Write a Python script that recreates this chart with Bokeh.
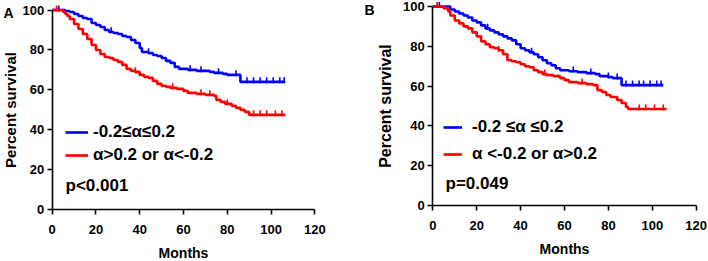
import numpy as np
from bokeh.plotting import figure
from bokeh.models import Range1d, FixedTicker, Legend, LegendItem, Label
from bokeh.layouts import row
from bokeh.embed import file_html
from bokeh.resources import INLINE

# ---------------- data ----------------
a_blue_t = [0, 5, 6, 8, 10, 12, 14, 16, 18, 20, 22, 24, 26, 28, 30, 32, 34, 36, 38, 40, 41,
            44, 46, 48, 50, 52, 54, 56, 58, 62, 66, 72, 74, 78, 80, 86, 106.5]
a_blue_s = [100, 100, 99.5, 99, 98, 97, 96, 95.5, 93.5, 92.5, 91.5, 90, 89, 88.5, 88, 87, 86.5, 85, 83.5, 81, 79,
            78.5, 77.5, 77, 76, 74.5, 73.5, 71.5, 70.5, 70, 69.5, 69, 68.5, 68, 67.5, 64, 64]
a_blue_cens = [3, 27, 44, 63, 68, 76, 84, 89, 92, 95, 98, 101, 104, 106]

a_red_t = [0, 4, 5, 6, 7, 8, 10, 12, 14, 16, 18, 20, 22, 24, 26, 28, 30, 32, 34, 36, 38, 40, 42, 44,
           46, 48, 50, 52, 54, 57, 60, 62, 66, 70, 74, 75, 77, 79, 82, 84, 86, 88, 90, 106.5]
a_red_s = [100, 100, 99, 98, 97, 95.5, 93, 90.5, 88, 85.5, 82.5, 80, 78, 76.5, 76, 75, 74, 72.5, 70.5, 69.5, 69,
           67.5, 66.5, 66, 64.5, 63, 62, 61.5, 61, 60.5, 59.5, 58.5, 58, 57.5, 57, 55, 54, 53, 52, 51, 50, 49,
           47.5, 47.5]
a_red_cens = [2, 38, 55, 68, 72, 80, 92, 95, 98, 102, 105]

b_blue_t = [0, 6, 8, 10, 12, 14, 16, 18, 20, 22, 24, 26, 28, 30, 32, 34, 36, 38, 40, 42, 44, 46, 48,
            50, 52, 54, 56, 58, 62, 66, 70, 74, 76, 80, 82, 86, 105]
b_blue_s = [100, 100, 98.5, 97.5, 96.5, 95.5, 94.5, 93, 92, 90.5, 89, 88, 87, 86, 85, 84, 83, 81, 79, 78, 77, 76,
            74.5, 73, 71.5, 70.5, 69, 68, 67.5, 67, 66.5, 66, 65, 64.5, 64, 60.5, 60.5]
b_blue_cens = [3, 25, 45, 64, 72, 80, 84, 88, 91, 94, 96, 99, 102, 104]

b_red_t = [0, 4, 5, 7, 8, 10, 12, 14, 16, 18, 20, 22, 24, 26, 28, 30, 32, 34, 36, 38, 40, 42, 44, 46,
           48, 50, 52, 55, 58, 60, 62, 66, 70, 73, 75, 77, 79, 81, 84, 86, 88, 89, 106.5]
b_red_s = [100, 100, 99, 97.5, 95.5, 93, 91.5, 90, 89, 87, 85, 82.5, 81, 79.5, 79, 78, 76, 73, 72.5, 72, 71,
           70, 69.5, 68, 67, 66, 65.5, 65, 64, 63, 62, 61.5, 61, 60.5, 58, 57, 55.5, 54.5, 53, 51.5, 49.5,
           48.5, 48.5]
b_red_cens = [2, 30, 51, 68, 94, 97, 101, 105]

x_ticks = [0, 20, 40, 60, 80, 100, 120]
y_ticks = [0, 20, 40, 60, 80, 100]

a_labels = ["-0.2\u2264\u03b1\u22640.2", "\u03b1>0.2 or \u03b1<-0.2"]
b_labels = ["-0.2 \u2264\u03b1 \u22640.2", "\u03b1 <-0.2 or \u03b1>0.2"]
a_pval = "p<0.001"
b_pval = "p=0.049"

BLUE = "#0000FF"
RED = "#FF0000"
FONT = "Liberation Sans"
W, H = 354, 261


def step_value(t, s, x):
    idx = np.searchsorted(np.asarray(t), np.asarray(x), side="right") - 1
    return np.asarray(s)[idx]


def make_panel(letter, curves, labels, pval, x0px, x120px, y0px, y100px,
               leg_left, leg_top, leg_spacing, glyph_w, standoff, pval_px, letter_px,
               tick_standoff_y, label_standoff_y, ylabel_size):
    # pixel calibration -> data ranges (frame covers the whole canvas, axes fixed at 0)
    sx = (x120px - x0px) / 120.0
    sy = (y0px - y100px) / 100.0
    xr = Range1d(-x0px / sx, (W - x0px) / sx)
    yr = Range1d(-(H - y0px) / sy, y0px / sy)

    p = figure(width=W, height=H, x_range=xr, y_range=yr,
               min_border_left=0, min_border_right=0, min_border_top=0, min_border_bottom=0,
               output_backend="svg", toolbar_location=None, tools="")
    p.grid.visible = False
    p.outline_line_color = None
    p.background_fill_color = "white"
    p.border_fill_color = "white"

    for ax in (p.xaxis[0], p.yaxis[0]):
        ax.fixed_location = 0
        ax.axis_line_width = 1.6
        ax.axis_line_color = "black"
        ax.major_tick_line_width = 1.6
        ax.major_tick_line_color = "black"
        ax.major_tick_out = 5
        ax.major_tick_in = 0
        ax.minor_tick_line_color = None
        ax.major_label_text_font = FONT
        ax.major_label_text_font_style = "bold"
        ax.major_label_text_font_size = "13px"
        ax.major_label_text_color = "black"
        ax.axis_label_text_font = FONT
        ax.axis_label_text_font_style = "bold"
        ax.axis_label_text_color = "black"
    p.xaxis[0].ticker = FixedTicker(ticks=x_ticks)
    p.yaxis[0].ticker = FixedTicker(ticks=y_ticks)
    p.xaxis[0].bounds = (0, 120)
    p.yaxis[0].bounds = (0, 100)
    p.xaxis[0].axis_label = "Months"
    p.yaxis[0].axis_label = "Percent survival"
    p.xaxis[0].axis_label_text_font_size = "14px"
    p.yaxis[0].axis_label_text_font_size = ylabel_size
    p.xaxis[0].major_label_standoff = 10
    p.yaxis[0].major_label_standoff = tick_standoff_y
    p.xaxis[0].axis_label_standoff = 8
    p.yaxis[0].axis_label_standoff = label_standoff_y

    items = []
    for (t, s, cens, color), lab in zip(curves, labels):
        st = p.step(t, s, mode="after", line_color=color, line_width=2.6)
        cy = step_value(t, s, cens)
        sc = p.scatter(cens, cy + 0.8, marker="dash", angle=np.pi / 2, size=6,
                       line_color=color, line_width=1.6)
        items.append(LegendItem(label=lab, renderers=[st, sc]))

    row_h = 20
    leg_h = 2 * row_h + leg_spacing
    leg = Legend(items=items, location=(leg_left, H - leg_top - leg_h), background_fill_alpha=0,
                 border_line_color=None, padding=0, margin=0,
                 spacing=leg_spacing, glyph_width=glyph_w, glyph_height=row_h,
                 label_height=row_h, label_standoff=standoff,
                 label_text_font=FONT, label_text_font_style="bold",
                 label_text_font_size="17px", label_text_color="black")
    p.add_layout(leg)

    p.add_layout(Label(x=pval_px[0], y=H - pval_px[1], x_units="screen", y_units="screen",
                       text=pval, text_font=FONT,
                       text_font_style="bold", text_font_size="17px",
                       text_baseline="middle", text_color="black"))
    p.add_layout(Label(x=letter_px[0], y=H - letter_px[1], x_units="screen", y_units="screen",
                       text=letter, text_font=FONT, text_font_style="bold",
                       text_font_size="14px", text_baseline="middle", text_color="black"))
    return p


pA = make_panel("A",
                [(a_blue_t, a_blue_s, a_blue_cens, BLUE), (a_red_t, a_red_s, a_red_cens, RED)],
                a_labels, a_pval,
                x0px=51.7, x120px=314.3, y0px=209.2, y100px=9.5,
                leg_left=65, leg_top=122, leg_spacing=3, glyph_w=23, standoff=5,
                pval_px=(65, 185), letter_px=(3, 12),
                tick_standoff_y=3, label_standoff_y=1, ylabel_size="15px")
pB = make_panel("B",
                [(b_blue_t, b_blue_s, b_blue_cens, BLUE), (b_red_t, b_red_s, b_red_cens, RED)],
                b_labels, b_pval,
                x0px=78.3, x120px=341.7, y0px=205, y100px=6,
                leg_left=89, leg_top=117, leg_spacing=7, glyph_w=19, standoff=10,
                pval_px=(91, 183), letter_px=(10, 9),
                tick_standoff_y=3, label_standoff_y=6, ylabel_size="16px")

layout = row(pA, pB)
open("out.html", "w").write(file_html(layout, INLINE))
